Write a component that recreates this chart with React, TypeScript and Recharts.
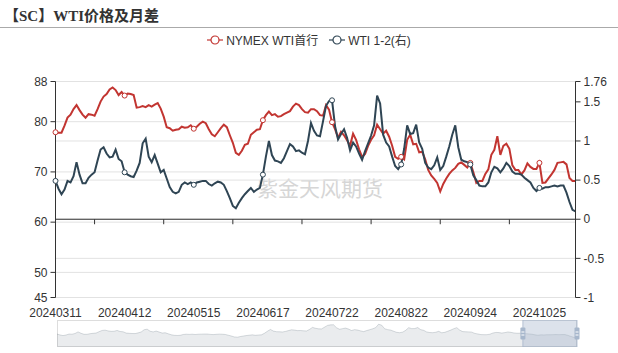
import React from "react";
import {
  LineChart,
  Line,
  XAxis,
  YAxis,
  CartesianGrid,
  ReferenceLine,
  AreaChart,
  Area,
  ReferenceArea,
  ReferenceDot,
} from "recharts";

const RED = "#c23531";
const DARK = "#2f4554";
const FONT = '"Liberation Sans", "Noto Sans CJK SC", sans-serif';

// trading days skipped by the source
const HOLIDAYS = ["20240329", "20240619", "20240704"];

const wtiFront = [
  77.9, 77.8, 77.8, 79.2, 80.8, 81.4, 82.5, 83.3, 82.3, 81.4,
  80.8, 81.5, 81.4, 81.2, 82.5, 84.0, 85.0, 85.5, 86.4, 86.8,
  86.3, 85.3, 85.9, 85.2, 85.6, 85.5, 85.3, 82.8, 82.9, 83.1,
  82.9, 83.3, 83.0, 83.4, 83.7, 82.6, 81.0, 78.9, 78.7, 78.2,
  78.4, 78.5, 79.0, 78.8, 78.9, 79.3, 78.6, 79.0, 79.6, 80.0,
  79.7, 78.5, 77.5, 77.1, 77.9, 78.7, 79.4, 78.9, 77.3, 75.8,
  73.8, 73.4, 74.2, 75.4, 75.6, 77.4, 77.9, 78.4, 78.5, 80.3,
  81.3, 82.0, 81.3, 81.5, 81.0, 81.1, 81.5, 81.8, 82.1, 83.0,
  83.6, 83.3, 82.5, 81.9, 81.8, 82.5, 82.5, 82.1, 81.3, 81.2,
  83.3, 82.4, 79.9, 78.5, 76.8, 78.0, 77.3, 76.3, 75.2, 77.6,
  76.4, 74.5, 73.0, 73.6, 75.2, 76.4, 77.3, 79.4, 78.5, 77.6,
  78.2, 77.0, 75.2, 73.0, 72.6, 73.0, 72.5, 76.4, 77.4, 75.5,
  75.6, 73.9, 74.0, 72.5, 70.4, 69.3, 68.6, 67.8, 66.1, 67.6,
  68.7, 69.6, 70.3, 70.8, 71.6, 71.9, 71.4, 70.9, 71.8, 70.0,
  67.8, 68.2, 68.2, 69.6, 70.5, 73.4, 74.4, 77.1, 73.4, 75.2,
  75.6, 74.6, 71.3, 70.4, 70.4, 69.5, 70.3, 71.7, 71.0, 70.6,
  70.6, 71.8, 67.8, 67.9, 68.7, 69.5, 70.4, 71.8, 71.9, 72.0,
  71.5, 68.8, 68.2, 68.2,
];

const wtiSpread = [
  0.49, 0.39, 0.32, 0.38, 0.49, 0.47, 0.55, 0.73, 0.57, 0.46,
  0.46, 0.53, 0.57, 0.6, 0.75, 0.89, 0.92, 0.84, 0.79, 0.8,
  0.89, 0.77, 0.74, 0.6, 0.57, 0.55, 0.54, 0.62, 0.72, 0.97,
  1.03, 0.8, 0.73, 0.82, 0.71, 0.6, 0.63, 0.52, 0.41, 0.35,
  0.33, 0.35, 0.44, 0.47, 0.45, 0.47, 0.44, 0.47, 0.48, 0.49,
  0.49, 0.45, 0.43, 0.46, 0.48, 0.47, 0.44, 0.36, 0.27, 0.17,
  0.14, 0.21, 0.27, 0.32, 0.36, 0.4, 0.35, 0.38, 0.4, 0.57,
  0.8, 1.0, 0.82, 0.75, 0.74, 0.72, 0.78, 0.87, 0.96, 0.93,
  0.87, 0.88, 0.85, 0.83, 1.0, 1.23, 1.13, 1.07, 1.06, 1.25,
  1.45, 1.51, 1.52, 1.19, 1.02, 1.09, 1.15, 1.04, 0.88, 0.98,
  0.93, 0.84, 0.76, 0.87, 0.97, 1.07, 1.2, 1.58, 1.48, 1.08,
  0.98, 0.93, 0.8, 0.68, 0.64, 0.7, 0.9, 1.2, 1.09, 1.1,
  1.21, 0.98, 0.9, 0.72, 0.66, 0.64, 0.69, 0.79, 0.63, 0.68,
  0.8, 0.93, 1.08, 1.2, 0.92, 0.76, 0.74, 0.73, 0.7, 0.56,
  0.5, 0.43, 0.42, 0.42, 0.47, 0.6, 0.67, 0.65, 0.6, 0.65,
  0.72, 0.68, 0.61, 0.58, 0.58, 0.57, 0.53, 0.5, 0.47, 0.4,
  0.36, 0.4, 0.39, 0.41, 0.41, 0.42, 0.43, 0.42, 0.43, 0.43,
  0.34, 0.22, 0.12, 0.1,
];

const LEFT_TICKS = [45, 50, 60, 70, 80, 88];
const RIGHT_TICKS = [-1, -0.5, 0, 0.5, 1, 1.5, 1.76];
const LABEL_STEP = 23;
const AXIS_TICK_IDX = [13, 36, 59, 82, 105, 128, 151];
const ZOOM_START = 155;

function buildDates(count: number) {
  const out: string[] = [];
  const d = new Date(Date.UTC(2024, 2, 11));
  while (out.length < count) {
    const wd = d.getUTCDay();
    const s =
      String(d.getUTCFullYear()) +
      String(d.getUTCMonth() + 1).padStart(2, "0") +
      String(d.getUTCDate()).padStart(2, "0");
    if (wd !== 0 && wd !== 6 && !HOLIDAYS.includes(s)) out.push(s);
    d.setUTCDate(d.getUTCDate() + 1);
  }
  return out;
}

const dates = buildDates(wtiFront.length);
const data = dates.map((date, i) => ({ date, wti: wtiFront[i], spread: wtiSpread[i] }));

const sparseDot = (color: string) => (props: any) => {
  const { cx, cy, index } = props;
  if (index % LABEL_STEP !== 0) return <g key={`d-${index}`} />;
  return <circle key={`d-${index}`} cx={cx} cy={cy} r={2.5} fill="#fff" stroke={color} strokeWidth={1} />;
};

const LegendIcon = ({ color }: { color: string }) => (
  <svg width={16} height={12} style={{ marginRight: 3 }}>
    <line x1={0} y1={6} x2={16} y2={6} stroke={color} strokeWidth={1.2} />
    <circle cx={8} cy={6} r={4} fill="#fff" stroke={color} strokeWidth={1.2} />
  </svg>
);

const Handle = (props: any) => (
  <g>
    <rect x={props.cx - 2.5} y={props.cy - 6} width={5} height={12} rx={1} fill="#a7b7cc" />
    <line x1={props.cx - 1.5} x2={props.cx + 1.5} y1={props.cy - 1.5} y2={props.cy - 1.5} stroke="#fff" />
    <line x1={props.cx - 1.5} x2={props.cx + 1.5} y1={props.cy + 1.5} y2={props.cy + 1.5} stroke="#fff" />
  </g>
);

export default function App() {
  const axisTick = { fontSize: 12, fill: "#333", fontFamily: FONT };
  return (
    <div style={{ position: "absolute", left: 0, top: 0, width: 618, height: 353, background: "#fff", fontFamily: FONT }}>
      <div style={{ position: "absolute", left: 4, top: 4, fontSize: 15, fontWeight: "bold", color: "#333", fontFamily: '"Liberation Serif", "Noto Sans CJK SC", serif' }}>
        【SC】WTI价格及月差
      </div>
      <div style={{ position: "absolute", left: 0, top: 27, width: 618, height: 1, background: "#aaa" }} />
      <div style={{ position: "absolute", left: 0, top: 31, width: 618, display: "flex", justifyContent: "center", fontSize: 12, color: "#333" }}>
        <div style={{ display: "flex", alignItems: "center", marginRight: 11 }}>
          <LegendIcon color={RED} />
          <span>NYMEX WTI首行</span>
        </div>
        <div style={{ display: "flex", alignItems: "center" }}>
          <LegendIcon color={DARK} />
          <span>WTI 1-2(右)</span>
        </div>
      </div>
      <div style={{ position: "absolute", left: 257, top: 172, fontSize: 21, color: "#d6d6d6", fontFamily: '"Noto Sans CJK SC", sans-serif' }}>
        紫金天风期货
      </div>
      <div style={{ position: "absolute", left: 0, top: 0 }}>
        <LineChart width={618} height={320} data={data} margin={{ top: 81.5, right: 0, bottom: 0, left: 0 }}>
          <CartesianGrid yAxisId="left" vertical={false} stroke="#e2e2e2" />
          <CartesianGrid yAxisId="right" vertical={false} stroke="#e2e2e2" />
          <XAxis dataKey="date" interval={LABEL_STEP - 1} axisLine={false} tickLine={false} height={22.5} tickMargin={5} tick={axisTick} />
          <YAxis yAxisId="left" domain={[45, 88]} ticks={LEFT_TICKS} width={55.5} tickSize={5} tickMargin={3} axisLine={{ stroke: "#333" }} tickLine={{ stroke: "#333" }} tick={axisTick} />
          <YAxis yAxisId="right" orientation="right" domain={[-1, 1.76]} ticks={RIGHT_TICKS} width={42.5} tickSize={5} tickMargin={3} axisLine={{ stroke: "#333" }} tickLine={{ stroke: "#333" }} tick={axisTick} />
          <ReferenceLine yAxisId="right" y={0} stroke="#333" />
          {AXIS_TICK_IDX.map((i) => (
            <ReferenceLine key={i} yAxisId="right" stroke="#333" ifOverflow="visible" segment={[{ x: dates[i], y: 0 }, { x: dates[i], y: -0.064 }]} />
          ))}
          <Line yAxisId="left" type="linear" dataKey="wti" name="NYMEX WTI首行" stroke={RED} strokeWidth={2} dot={sparseDot(RED)} activeDot={false} isAnimationActive={false} />
          <Line yAxisId="right" type="linear" dataKey="spread" name="WTI 1-2(右)" stroke={DARK} strokeWidth={2} dot={sparseDot(DARK)} activeDot={false} isAnimationActive={false} />
        </LineChart>
      </div>
      <div style={{ position: "absolute", left: 57, top: 320, width: 520, height: 27, border: "1px solid #ddd", boxSizing: "border-box" }} />
      <div style={{ position: "absolute", left: 53, top: 320 }}>
        <AreaChart width={528} height={27} data={data} margin={{ top: 0, right: 4, bottom: 0, left: 4 }}>
          <XAxis dataKey="date" hide />
          <YAxis domain={[-0.95, 2.05]} hide />
          <Area type="linear" dataKey="spread" baseValue="dataMin" stroke={DARK} strokeOpacity={0.3} strokeWidth={0.6} fill={DARK} fillOpacity={0.1} dot={false} activeDot={false} isAnimationActive={false} />
          <ReferenceArea x1={dates[ZOOM_START]} x2={dates[dates.length - 1]} fill="#a7b7cc" fillOpacity={0.4} stroke="#a7b7cc" strokeOpacity={0.8} />
          <ReferenceDot x={dates[ZOOM_START]} y={0.55} shape={Handle} />
          <ReferenceDot x={dates[dates.length - 1]} y={0.55} shape={Handle} ifOverflow="visible" />
        </AreaChart>
      </div>
    </div>
  );
}
